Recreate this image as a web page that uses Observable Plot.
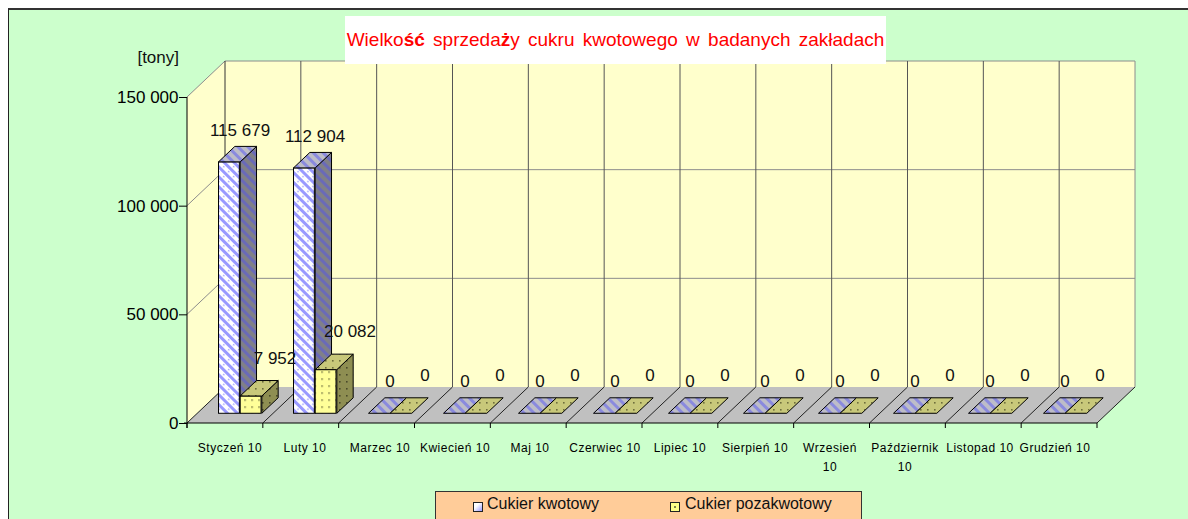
<!DOCTYPE html>
<html lang="pl">
<head>
<meta charset="utf-8">
<script src="https://cdn.jsdelivr.net/npm/d3@7"></script>
<script src="https://cdn.jsdelivr.net/npm/@observablehq/plot@0.6"></script>
<style>
html, body { margin:0; padding:0; background:#fff; }
#wrap { position:relative; width:1188px; height:519px; overflow:hidden; font-family:"Liberation Sans", Arial, sans-serif; color:#000; }
#panel { position:absolute; left:8px; top:8px; width:1190px; height:520px; background:#CCFFCC; border-left:1px solid #222; border-top:2px solid #333; }
#chart { position:absolute; left:0; top:0; }
#title { position:absolute; left:345px; top:16px; width:541px; height:48px; background:#fff; color:#ff0000; font-size:19px; line-height:48px; text-align:center; word-spacing:3px; white-space:nowrap; }
#unit { position:absolute; right:1009px; top:48px; font-size:17px; line-height:20px; color:#111; }
#legend { position:absolute; left:435px; top:491px; width:425px; height:40px; background:#FFCC99; border:1px solid #333; }
.sw { position:absolute; top:10px; width:8px; height:8px; border:1px solid #222; }
.lt { position:absolute; top:2px; font-size:16px; line-height:20px; white-space:nowrap; color:#111; }
#chart g[aria-label="x-axis tick label"] text { letter-spacing: 0.5px; }
</style>
</head>
<body>
<div id="wrap">
  <div id="panel"></div>
  <div id="chart"></div>
  <div id="title"></div>
  <div id="unit"></div>
  <div id="legend"></div>
</div>
<script>
// ---- data ----
const months = ["Styczeń 10", "Luty 10", "Marzec 10", "Kwiecień 10", "Maj 10", "Czerwiec 10",
  "Lipiec 10", "Sierpień 10", "Wrzesień\n10", "Październik\n10", "Listopad 10", "Grudzień 10"];
const seriesNames = ["Cukier kwotowy", "Cukier pozakwotowy"];
const kwotowy = [115679, 112904, 0, 0, 0, 0, 0, 0, 0, 0, 0, 0];
const pozakwotowy = [7952, 20082, 0, 0, 0, 0, 0, 0, 0, 0, 0, 0];
const yTicks = [0, 50000, 100000, 150000];
const unitLabel = "[tony]";
const titleText = "Wielkość sprzedaży cukru kwotowego w badanych zakładach";

// ---- layout / style ----
const W = 1188, H = 519, ML = 187, MR = 91, MT = 97, MB = 96;
const DX = 38, DY = -36;              // 3D depth of the walls
const FRONT = 0.27, BACK = 0.70;      // bar depth position (fraction of wall depth)
const GAP = 1.5;                      // gap width (Excel 150%)
const BW = (W - ML - MR) / months.length;
const BARW = BW / (2 + GAP);

const fmt = d => d3.format(",")(d).replace(/,/g, " ");
const rows = vals => vals.map((value, i) => ({month: months[i], value}));
const kRows = rows(kwotowy), pRows = rows(pozakwotowy);

function walls(index, scales, values, dim) {
  const {y} = scales;
  const x0 = dim.marginLeft, x1 = dim.width - dim.marginRight;
  const y0 = y(yTicks[0]), yT = y(yTicks[yTicks.length - 1]);
  const n = months.length, bw = (x1 - x0) / n;
  const g = d3.create("svg:g");
  const poly = (pts, fill) => g.append("path").attr("d", "M" + pts.map(p => p.join(",")).join("L") + "Z").attr("fill", fill);
  const line = (pts, stroke) => g.append("path").attr("d", "M" + pts.map(p => p.join(",")).join("L"))
    .attr("fill", "none").attr("stroke", stroke).attr("stroke-width", 1);
  poly([[x0 + DX, yT + DY], [x1 + DX, yT + DY], [x1 + DX, y0 + DY], [x0 + DX, y0 + DY]], "#FFFFCC");
  poly([[x0, y0], [x0, yT], [x0 + DX, yT + DY], [x0 + DX, y0 + DY]], "#FFFFCC");
  poly([[x0, y0], [x1, y0], [x1 + DX, y0 + DY], [x0 + DX, y0 + DY]], "#C0C0C0");
  for (const t of yTicks.slice(1)) line([[x0, y(t)], [x0 + DX, y(t) + DY], [x1 + DX, y(t) + DY]], "#8c8c8c");
  line([[x1 + DX, yT + DY], [x1 + DX, y0 + DY]], "#8c8c8c");
  for (let i = 0; i < n; i++) line([[x0 + DX + i * bw, yT + DY], [x0 + DX + i * bw, y0 + DY]], i === 0 ? "#333" : "#555");
  for (let i = 0; i <= n; i++) {
    const xi = x0 + i * bw;
    line([[xi, y0], [xi + DX, y0 + DY]], "#222");
    line([[xi, y0], [xi, y0 + 5]], "#000");
  }
  line([[x0 - 3, y0], [x1, y0]], "#000");
  line([[x0, yT], [x0, y0 + 5]], "#000");
  return g.node();
}

function frontBars(data, s, fill) {
  const left = BARW * GAP / 2 + s * BARW;
  return Plot.barY(data, {
    filter: d => d.value > 0, x: "month", y: "value",
    insetLeft: left, insetRight: BW - left - BARW,
    dx: DX * FRONT, dy: DY * FRONT, fill, stroke: "#000", strokeWidth: 1
  });
}

function faces(data, s, sideFill, topFill) {
  return (index, scales) => {
    const {x, y} = scales;
    const g = d3.create("svg:g");
    const off = BARW * GAP / 2 + s * BARW;
    const fx = DX * FRONT, fy = DY * FRONT, ddx = DX * (BACK - FRONT), ddy = DY * (BACK - FRONT);
    for (const d of data) {
      const xl = x(d.month) + off + fx, xr = xl + BARW;
      const yt = y(d.value) + fy, yb = y(0) + fy;
      if (d.value > 0) {
        g.append("path")
          .attr("d", `M${xr},${yb}L${xr},${yt}L${xr + ddx},${yt + ddy}L${xr + ddx},${yb + ddy}Z`)
          .attr("fill", sideFill).attr("stroke", "#000");
      }
      g.append("path")
        .attr("d", `M${xl},${yt}L${xr},${yt}L${xr + ddx},${yt + ddy}L${xl + ddx},${yt + ddy}Z`)
        .attr("fill", topFill).attr("stroke", "#000");
    }
    return g.node();
  };
}

const chart = Plot.plot({
  width: W, height: H,
  marginLeft: ML, marginRight: MR, marginTop: MT, marginBottom: MB,
  x: {type: "band", domain: months, padding: 0},
  y: {domain: [yTicks[0], yTicks[yTicks.length - 1]]},
  style: {background: "none", color: "#000", fontFamily: "'Liberation Sans', Arial, sans-serif", overflow: "visible"},
  marks: [
    walls,
    frontBars(kRows, 0, "url(#pBF)"),
    faces(kRows, 0, "url(#pBS)", "url(#pBT)"),
    frontBars(pRows, 1, "url(#pYF)"),
    faces(pRows, 1, "url(#pYS)", "url(#pYT)"),
    Plot.text(kRows, {x: "month", y: "value", text: d => fmt(d.value), dx: 10, dy: -42, fontSize: 17, fill: "#111"}),
    Plot.text(pRows, {x: "month", y: "value", text: d => fmt(d.value), dx: 45, dy: -48, fontSize: 17, fill: "#111"}),
    Plot.axisY({ticks: yTicks, tickFormat: fmt, tickSize: 8, tickPadding: 1, fontSize: 17, label: null}),
    Plot.axisX({tickSize: 0, tickPadding: 15, fontSize: 12, lineHeight: 1.58, label: null})
  ]
});

d3.select(chart).insert("defs", ":first-child").html(`
  <pattern id="pBF" patternUnits="userSpaceOnUse" width="7" height="7" patternTransform="rotate(-45)">
    <rect width="7" height="7" fill="#ffffff"/><rect width="3" height="7" fill="#9999ff"/>
    <rect x="4.6" y="2" width="1.4" height="1.4" fill="#9999ff"/></pattern>
  <pattern id="pBS" patternUnits="userSpaceOnUse" width="7" height="7" patternTransform="rotate(-45)">
    <rect width="7" height="7" fill="#808088"/><rect width="3" height="7" fill="#6a6ab8"/></pattern>
  <pattern id="pBT" patternUnits="userSpaceOnUse" width="7" height="7" patternTransform="rotate(-45)">
    <rect width="7" height="7" fill="#bdbdc8"/><rect width="3" height="7" fill="#8a8ade"/></pattern>
  <pattern id="pYF" patternUnits="userSpaceOnUse" width="7" height="7">
    <rect width="7" height="7" fill="#ffff99"/><rect x="3" y="3" width="1.6" height="1.6" fill="#80804a"/></pattern>
  <pattern id="pYS" patternUnits="userSpaceOnUse" width="7" height="7">
    <rect width="7" height="7" fill="#8e8e52"/><rect x="3" y="3" width="1.6" height="1.6" fill="#4a4a2a"/></pattern>
  <pattern id="pYT" patternUnits="userSpaceOnUse" width="7" height="7">
    <rect width="7" height="7" fill="#c8c87a"/><rect x="3" y="3" width="1.6" height="1.6" fill="#6e6e3c"/></pattern>
`);
document.getElementById("chart").appendChild(chart);

document.getElementById("title").innerHTML = titleText.replace(/[śćż]/g, m => `<b>${m}</b>`);
document.getElementById("unit").textContent = unitLabel;

const legend = document.getElementById("legend");
const swStyles = [
  "background:linear-gradient(135deg,#ffffff 35%,#9999ff 100%)",
  "background:#ffff88 radial-gradient(circle at 50% 50%, #80804a 18%, transparent 22%)"
];
const swLeft = [37, 234], txtLeft = [51, 249];
seriesNames.forEach((name, i) => {
  const sw = document.createElement("span");
  sw.className = "sw"; sw.style.cssText = swStyles[i] + `;left:${swLeft[i]}px`;
  const t = document.createElement("span");
  t.className = "lt"; t.style.left = txtLeft[i] + "px"; t.textContent = name;
  legend.appendChild(sw); legend.appendChild(t);
});
</script>
</body>
</html>
